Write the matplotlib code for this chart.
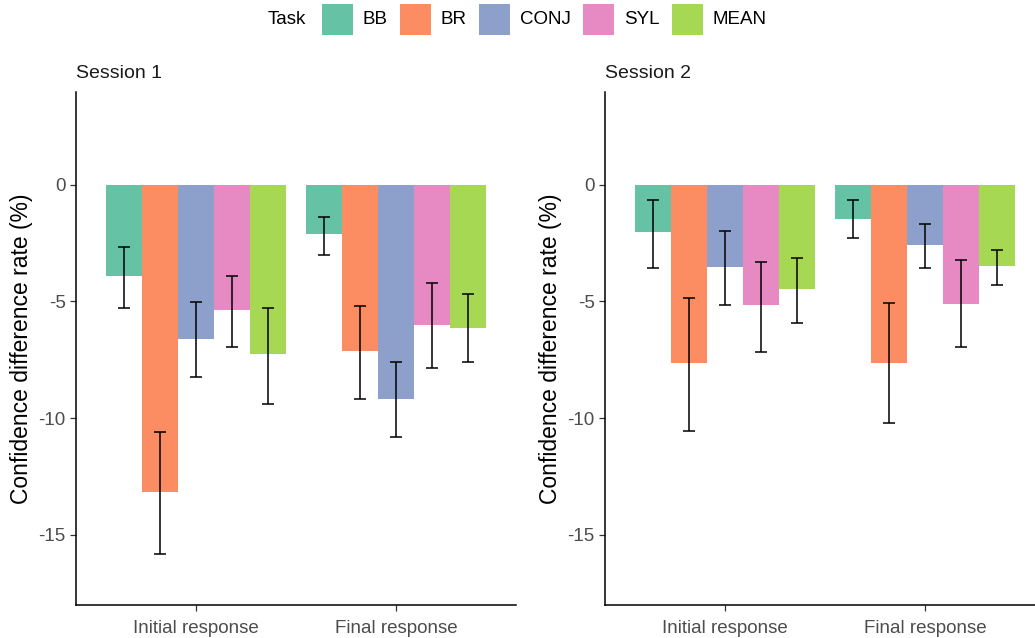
import numpy as np
import matplotlib
matplotlib.use("Agg")
import matplotlib.pyplot as plt
from matplotlib.patches import Rectangle

plt.rcParams['font.family'] = ['Liberation Sans', 'DejaVu Sans']
plt.rcParams['axes.unicode_minus'] = False

tasks = ["BB", "BR", "CONJ", "SYL", "MEAN"]
colors = ["#66C2A5", "#FC8D62", "#8DA0CB", "#E78AC3", "#A6D854"]
responses = ["Initial response", "Final response"]
sessions = ["Session 1", "Session 2"]

# Mittelwerte je Session: [Initial, Final] pro Task
s1_mean = {"BB": [-3.93, -2.10], "BR": [-13.16, -7.11], "CONJ": [-6.60, -9.19],
           "SYL": [-5.37, -6.00], "MEAN": [-7.24, -6.14]}
s1_lo = {"BB": [-5.27, -3.00], "BR": [-15.80, -9.17], "CONJ": [-8.23, -10.79],
         "SYL": [-6.96, -7.87], "MEAN": [-9.39, -7.60]}
s1_hi = {"BB": [-2.67, -1.37], "BR": [-10.60, -5.19], "CONJ": [-5.01, -7.60],
         "SYL": [-3.89, -4.23], "MEAN": [-5.27, -4.69]}

s2_mean = {"BB": [-2.04, -1.47], "BR": [-7.63, -7.63], "CONJ": [-3.54, -2.57],
           "SYL": [-5.16, -5.10], "MEAN": [-4.46, -3.47]}
s2_lo = {"BB": [-3.57, -2.29], "BR": [-10.53, -10.21], "CONJ": [-5.14, -3.57],
         "SYL": [-7.16, -6.96], "MEAN": [-5.91, -4.30]}
s2_hi = {"BB": [-0.66, -0.66], "BR": [-4.87, -5.07], "CONJ": [-2.00, -1.69],
         "SYL": [-3.31, -3.24], "MEAN": [-3.12, -2.79]}

W, H = 1035, 638
fig = plt.figure(figsize=(W / 100, H / 100), dpi=100)

def px_axes(x0, y0, x1, y1):
    return fig.add_axes([x0 / W, 1 - y1 / H, (x1 - x0) / W, (y1 - y0) / H])

tick_col = "#4D4D4D"
panels = [(76, s1_mean, s1_lo, s1_hi), (605, s2_mean, s2_lo, s2_hi)]
dodge = 0.9
bw = dodge / len(tasks)
x = np.arange(1, len(responses) + 1)

for (x0, mean, lo, hi), title in zip(panels, sessions):
    ax = px_axes(x0, 92, x0 + 440, 605)
    for i, t in enumerate(tasks):
        xpos = x - dodge / 2 + bw * (i + 0.5)
        m = np.array(mean[t])
        ax.bar(xpos, m, width=bw, color=colors[i], edgecolor="none", zorder=2)
        err = np.vstack([m - np.array(lo[t]), np.array(hi[t]) - m])
        ax.errorbar(xpos, m, yerr=err, fmt="none", ecolor="black",
                    elinewidth=1.1, capsize=4, capthick=1.1, zorder=3)
    ax.set_xlim(0.4, 2.6)
    ax.set_ylim(-18.0, 3.97)
    ax.set_xticks(x)
    ax.set_xticklabels(responses)
    ax.set_yticks([0, -5, -10, -15])
    ax.set_yticklabels(["0", "-5", "-10", "-15"])
    ax.tick_params(axis="both", labelsize=13.5, labelcolor=tick_col,
                   color="#333333", length=4, width=0.9)
    ax.tick_params(axis="x", pad=7)
    for s in ["top", "right"]:
        ax.spines[s].set_visible(False)
    for s in ["left", "bottom"]:
        ax.spines[s].set_linewidth(1.1)
        ax.spines[s].set_color("black")
    ax.set_ylabel("Confidence difference rate (%)", fontsize=16.5, color="black", labelpad=4)
    ax.set_title(title, loc="left", fontsize=14, pad=10, color="#1A1A1A")

# Legende oben
fig.text(268 / W, 1 - 20 / H, "Task", fontsize=13.5, va="center", ha="left")
key_x = [322, 400, 479, 583, 672]
for kx, t, c in zip(key_x, tasks, colors):
    fig.patches.append(Rectangle((kx / W, 1 - 35 / H), 31 / W, 31 / H,
                                 transform=fig.transFigure, facecolor=c,
                                 edgecolor="none"))
    fig.text((kx + 41) / W, 1 - 20 / H, t, fontsize=13.5, va="center", ha="left")

fig.savefig("out.png", dpi=100)
